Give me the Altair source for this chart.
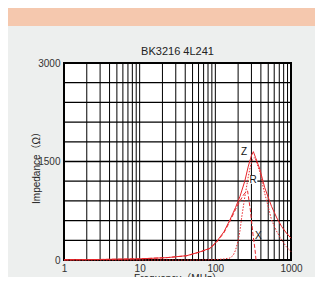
import altair as alt
import pandas as pd

title_text = ["BK3216 4L241"]
x_title = "Frequency（MHz）"
y_title = "Impedance（Ω）"

# Z (solid)
z_freq = [1, 3, 10, 23, 42, 63, 85, 104, 130, 156, 185, 212, 245, 273, 300, 318, 340, 388, 450, 553, 650, 752, 870, 1000]
z_val = [3, 8, 18, 36, 66, 125, 180, 280, 430, 612, 800, 970, 1200, 1430, 1590, 1650, 1560, 1380, 1100, 816, 640, 510, 410, 332]

# R (dotted)
r_freq = [1, 60, 80, 100, 130, 156, 172, 185, 200, 212, 223, 235, 246, 260, 273, 290, 310, 325, 340, 360, 388, 430, 490, 553, 650, 752, 870, 1000]
r_val = [0, 0, 3, 6, 15, 30, 70, 150, 290, 450, 650, 820, 970, 1130, 1275, 1420, 1530, 1560, 1540, 1450, 1340, 1100, 850, 612, 430, 306, 200, 128]

# X (dashed)
x_freq = [1, 3, 10, 23, 42, 63, 85, 104, 130, 156, 185, 212, 235, 255, 267, 290, 315, 335, 345]
x_val = [3, 8, 18, 36, 65, 122, 175, 270, 415, 590, 770, 900, 990, 1040, 1050, 765, 383, 150, 0]

label_text = ["Z", "R", "X"]
label_freq = [239, 316, 370]
label_val = [1638, 1224, 367]

grid_x = [1, 2, 3, 4, 5, 6, 7, 8, 9, 10, 20, 30, 40, 50, 60, 70, 80, 90,
          100, 200, 300, 400, 500, 600, 700, 800, 900, 1000]
grid_y = [0, 300, 600, 900, 1200, 1500, 1800, 2100, 2400, 2700, 3000]
x_ticks = [1, 10, 100, 1000]
y_ticks = [0, 1500, 3000]

RED = "#e8262b"
FONT = "Liberation Sans, Noto Sans CJK JP"

xs = alt.Scale(type="log", domain=[1, 1000], nice=False)
ys = alt.Scale(domain=[0, 3000], nice=False)

x_axis = alt.Axis(values=x_ticks, format="d", grid=False, ticks=False, domain=False,
                  labelFlush=False, labelOverlap=False,
                  labelPadding=3, labelFontSize=10, labelColor="#333", labelFont=FONT,
                  title=x_title, titleFont=FONT, titleFontSize=10, titleFontWeight="normal",
                  titleColor="#222", titlePadding=0)
y_axis = alt.Axis(values=y_ticks, format="d", grid=False, ticks=False, domain=False,
                  labelFlush=False, labelOverlap=False,
                  labelPadding=4, labelFontSize=10, labelColor="#333", labelFont=FONT,
                  title=y_title, titleFont=FONT, titleFontSize=10, titleFontWeight="normal",
                  titleColor="#222", titlePadding=-4, titleY=102)

one = pd.DataFrame({"a": [0]})

peach = "#f5c8ae"
top_strip = alt.Chart(one).mark_rect(color=peach).encode(
    x=alt.value(-64), x2=alt.value(260), y=alt.value(-70), y2=alt.value(-37))

title_mark = alt.Chart(pd.DataFrame({"t": title_text})).mark_text(
    fontSize=11, font=FONT, color="#222", baseline="alphabetic", align="center").encode(
    x=alt.value(113.5), y=alt.value(-8), text="t:N")

gx = alt.Chart(pd.DataFrame({"f": grid_x})).mark_rule(color="#000", strokeWidth=1).encode(
    x=alt.X("f:Q", scale=xs, axis=x_axis))
gy = alt.Chart(pd.DataFrame({"v": grid_y})).mark_rule(color="#000", strokeWidth=1.3).encode(
    y=alt.Y("v:Q", scale=ys, axis=y_axis))

def line(freq, val, dash):
    df = pd.DataFrame({"f": freq, "v": val})
    kw = dict(color=RED, strokeWidth=1)
    if dash:
        kw["strokeDash"] = dash
    return alt.Chart(df).mark_line(**kw).encode(
        x=alt.X("f:Q", scale=xs), y=alt.Y("v:Q", scale=ys))

z_line = line(z_freq, z_val, None)
r_line = line(r_freq, r_val, [1.5, 1.5])
x_line = line(x_freq, x_val, [4, 2])

ldf = pd.DataFrame({"t": label_text, "f": label_freq, "v": label_val})
bg = alt.Chart(ldf[ldf.t != "X"]).mark_square(color="white", opacity=1, size=70).encode(
    x=alt.X("f:Q", scale=xs), y=alt.Y("v:Q", scale=ys))
labels = alt.Chart(ldf).mark_text(fontSize=10, font=FONT, color="#111").encode(
    x=alt.X("f:Q", scale=xs), y=alt.Y("v:Q", scale=ys), text="t:N")

chart = alt.layer(top_strip, title_mark, gx, gy, x_line, r_line, z_line, bg, labels).properties(
    width=227, height=197,
    padding={"left": 56, "top": 55, "right": 24, "bottom": 17},
    autosize=alt.AutoSizeParams(type="none"),
).configure(background="#edefee").configure_view(fill="white", stroke="#000", strokeWidth=2)

chart.save("out.html", embed_options={"renderer": "svg", "actions": False})
